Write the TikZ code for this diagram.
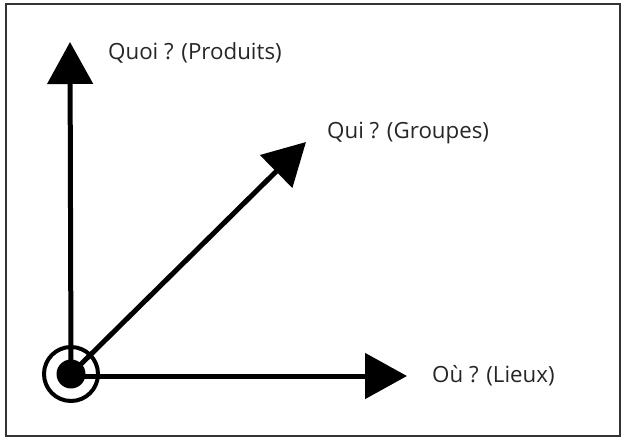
\documentclass[tikz,border=0pt]{standalone}
\usepackage{fontspec}
\setmainfont{Open Sans}
\usetikzlibrary{arrows.meta}
\begin{document}
\begin{tikzpicture}[x=1pt,y=-1pt,
  axis/.style={line width=5pt, -{Triangle[length=42pt,width=45pt]}},
  lbl/.style={anchor=west, inner sep=0pt, font=\fontsize{22.3}{25}\selectfont, text=black!85}]
  \useasboundingbox (0,0) rectangle (621,437);
  \draw[line width=1.5pt, black!80] (6,4) rectangle (620,436);
  % origin and the three axis ends
  \coordinate (o) at (71,374);
  \coordinate (q) at (70,42);
  \coordinate (g) at (306,142);
  \coordinate (l) at (407,376);
  \draw[axis] (o) -- (q);
  \draw[axis] (o) -- (g);
  \draw[axis] (o |- l) -- (l);
  % origin marker: disk inside a ring
  \fill (o) circle (14.5);
  \draw[line width=4pt] (o) circle (27);
  \node[lbl] (tq) at (108,53) {Quoi ? (Produits)};
  \node[lbl] (tg) at (327,133) {Qui ? (Groupes)};
  \node[lbl] (tl) at (432,376) {Où ? (Lieux)};
\end{tikzpicture}
\end{document}
